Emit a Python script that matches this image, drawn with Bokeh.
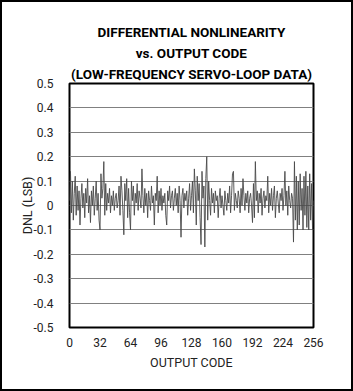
from bokeh.plotting import figure
from bokeh.models import Range1d, FixedTicker, Title, InlineStyleSheet
from bokeh.embed import file_html
from bokeh.resources import INLINE

# ---- data ----
codes = list(range(0, 257))
dnl = [
    0.02, 0.14, -0.03, 0.10, -0.06, 0.05, 0.12, -0.04, 0.08, -0.02, 0.06, -0.08, 0.03, 0.09, -0.01, 0.05,
    -0.05, 0.07, 0.01, 0.11, -0.03, 0.04, -0.07, 0.06, 0.00, 0.08, -0.04, 0.03, 0.10, -0.02, 0.05, -0.06,
    -0.10, 0.13, 0.03, 0.07, 0.18, -0.04, 0.09, -0.02, 0.05, 0.01, 0.07, -0.03, 0.04, 0.00, 0.06, -0.02,
    0.03, 0.05, -0.01, 0.02, 0.08, -0.04, 0.12, 0.06, -0.02, -0.12, 0.09, 0.02, 0.11, -0.05, 0.07, -0.03,
    -0.10, 0.10, 0.02, 0.08, -0.04, 0.05, 0.01, 0.09, -0.02, 0.06, 0.03, -0.01, 0.15, 0.04, -0.03, 0.07,
    0.00, 0.05, -0.05, 0.06, 0.02, -0.02, 0.08, 0.01, 0.04, -0.08, 0.05, 0.02, 0.12, -0.03, 0.06, 0.00,
    0.07, -0.02, 0.04, 0.01, 0.05, -0.04, -0.08, 0.06, 0.02, 0.08, -0.01, 0.04, 0.06, -0.02, 0.03, 0.07,
    0.00, 0.05, -0.03, 0.08, 0.02, -0.13, 0.04, 0.07, -0.01, 0.05, 0.02, 0.06, -0.04, 0.03, 0.09, -0.02,
    0.04, 0.10, -0.03, 0.15, 0.06, -0.08, 0.12, 0.02, 0.09, -0.05, -0.16, 0.14, 0.03, 0.08, -0.17, 0.11,
    0.20, -0.06, 0.10, 0.02, -0.04, 0.07, 0.01, 0.05, -0.03, 0.06, 0.02, 0.04, -0.05, 0.03, 0.07, -0.01,
    0.04, 0.00, -0.04, 0.06, 0.02, -0.02, 0.05, 0.01, 0.08, -0.03, 0.04, 0.13, 0.14, -0.02, 0.05, 0.02,
    -0.01, 0.06, 0.03, -0.03, 0.07, 0.00, 0.11, 0.04, -0.02, 0.05, 0.01, 0.06, -0.03, 0.03, 0.05, 0.00,
    -0.07, 0.09, -0.05, 0.18, 0.02, 0.06, -0.03, 0.05, 0.01, 0.07, -0.04, 0.03, 0.06, -0.01, 0.04, 0.02,
    0.12, -0.03, 0.05, 0.00, 0.07, -0.02, 0.04, 0.08, -0.05, 0.03, 0.06, 0.01, -0.03, 0.05, 0.02, 0.07,
    -0.02, 0.04, 0.14, 0.00, 0.06, -0.04, 0.08, 0.02, -0.01, 0.05, 0.03, -0.15, 0.18, -0.06, 0.12, -0.10,
    0.10, -0.08, 0.13, -0.02, 0.07, -0.10, 0.12, -0.04, 0.14, -0.09, 0.08, -0.10, 0.13, -0.06, 0.09, -0.10,
    0.02,
]
x_ticks = [0, 32, 64, 96, 128, 160, 192, 224, 256]
x_tick_labels = ["0", "32", "64", "96", "128", "160", "192", "224", "256"]
y_ticks = [-0.5, -0.4, -0.3, -0.2, -0.1, 0.0, 0.1, 0.2, 0.3, 0.4, 0.5]
y_tick_labels = ["-0.5", "-0.4", "-0.3", "-0.2", "-0.1", "0", "0.1", "0.2", "0.3", "0.4", "0.5"]
title_lines = ["DIFFERENTIAL NONLINEARITY", "vs. OUTPUT CODE", "(LOW-FREQUENCY SERVO-LOOP DATA)"]
x_label = "OUTPUT CODE"
y_label = "DNL (LSB)"

FONT = "Roboto"

p = figure(
    width=349, height=387,
    frame_width=244, frame_height=244,
    min_border_left=67, min_border_right=38, min_border_top=81, min_border_bottom=62,
    x_range=Range1d(0, 256), y_range=Range1d(-0.5, 0.5),
    output_backend="svg", toolbar_location=None,
    background_fill_color="white", border_fill_color="white",
)
p.stylesheets = [InlineStyleSheet(css=":host { border: 2px solid black; }")]

p.outline_line_color = "black"
p.outline_line_width = 2

p.line(codes, dnl, line_color="#4a4a4a", line_width=0.9)

# axes
p.xaxis.ticker = FixedTicker(ticks=x_ticks)
p.xaxis.major_label_overrides = {t: l for t, l in zip(x_ticks, x_tick_labels)}
p.yaxis.ticker = FixedTicker(ticks=y_ticks)
p.yaxis.major_label_overrides = {t: l for t, l in zip(y_ticks, y_tick_labels)}

for ax in (p.xaxis, p.yaxis):
    ax.axis_line_color = None
    ax.major_tick_line_color = None
    ax.minor_tick_line_color = None
    ax.major_label_text_font = FONT
    ax.major_label_text_font_size = "12px"
    ax.major_label_text_color = "#222222"
    ax.axis_label_text_font = FONT
    ax.axis_label_text_font_size = "12.5px"
    ax.axis_label_text_font_style = "normal"
    ax.axis_label_text_color = "#222222"

p.xaxis.axis_label = x_label
p.yaxis.axis_label = y_label
p.xaxis.major_label_standoff = 4
p.yaxis.major_label_standoff = 10
p.xaxis.axis_label_standoff = 5
p.yaxis.axis_label_standoff = -4

p.xgrid.grid_line_color = None
p.ygrid.ticker = FixedTicker(ticks=y_ticks)
p.ygrid.grid_line_color = "#808080"
p.ygrid.grid_line_width = 1

# title: three centred lines, nearest line added first
for i, line in enumerate(reversed(title_lines)):
    t = Title(text=line, align="center",
              text_font=FONT, text_font_size="13.5px", text_font_style="bold",
              text_color="black", standoff=(3 if i == 0 else 3))
    p.add_layout(t, "above")

open("out.html", "w").write(file_html(p, INLINE))
